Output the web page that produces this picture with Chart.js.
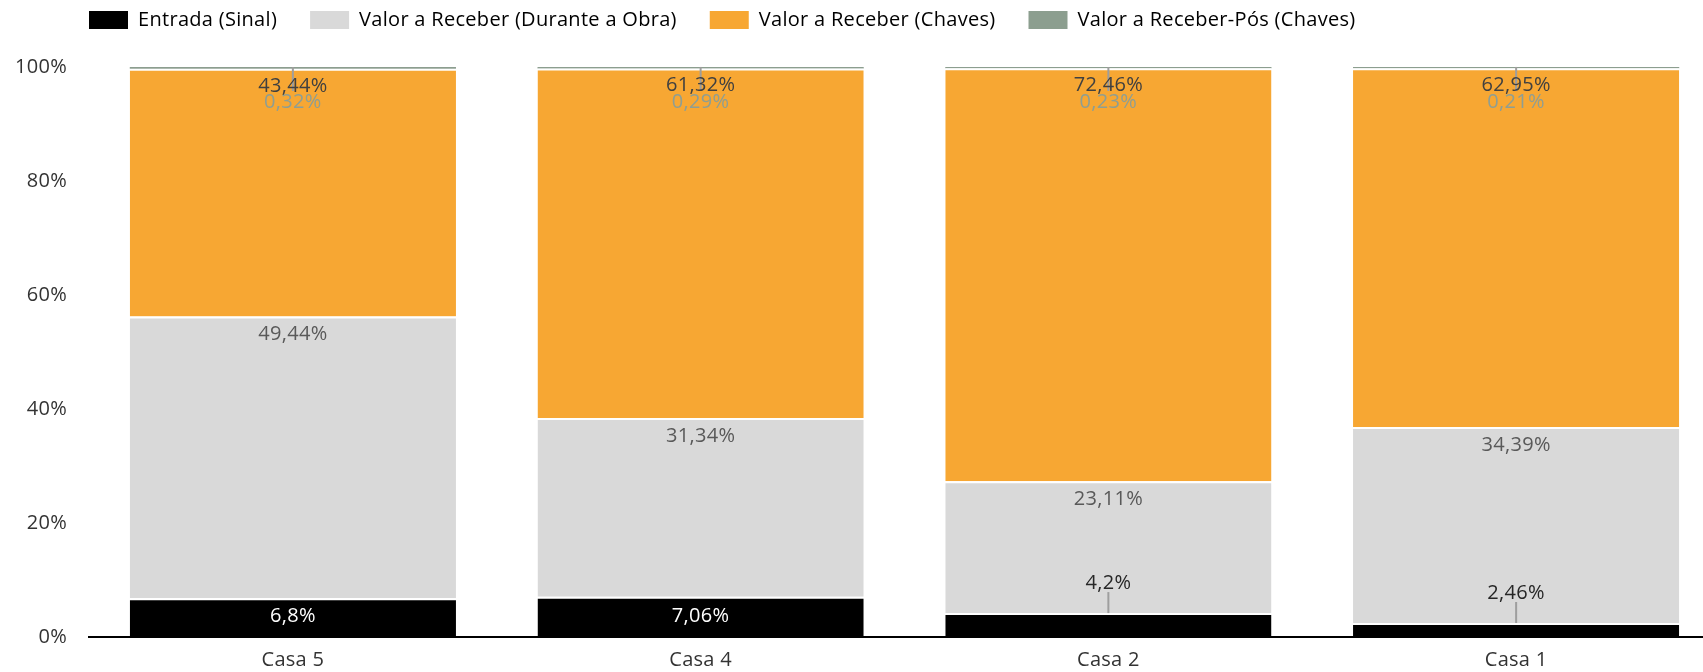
<!DOCTYPE html>
<html>
<head>
<meta charset="utf-8">
<script src="https://cdn.jsdelivr.net/npm/chart.js@4.4.1/dist/chart.umd.min.js"></script>
<style>
  html, body { margin: 0; padding: 0; background: #fff; overflow: hidden; }
  #wrap { width: 1720px; height: 672px; }
</style>
</head>
<body>
<div id="wrap"><canvas id="c" width="1720" height="672"></canvas></div>
<script>
const categories = ['Casa 5', 'Casa 4', 'Casa 2', 'Casa 1'];
const seriesNames = ['Entrada (Sinal)', 'Valor a Receber (Durante a Obra)', 'Valor a Receber (Chaves)', 'Valor a Receber-Pós (Chaves)'];
const entrada = [6.8, 7.06, 4.2, 2.46];
const duranteObra = [49.44, 31.34, 23.11, 34.39];
const chaves = [43.44, 61.32, 72.46, 62.95];
const posChaves = [0.32, 0.29, 0.23, 0.21];
const yTickValues = [0, 20, 40, 60, 80, 100];

const COLORS = ['#000000', '#D9D9D9', '#F7A733', '#8C9E8F'];
const FONT = "'Open Sans', 'Noto Sans', sans-serif";
const FSIZE = 20;
const SPACING = '0.3px';

Chart.defaults.font.family = FONT;
Chart.defaults.font.size = FSIZE;
Chart.defaults.color = '#333333';

function fmt(v) { return String(v).replace('.', ',') + '%'; }

const spacingPlugin = {
  id: 'spacing',
  beforeUpdate(chart) { chart.ctx.letterSpacing = SPACING; },
  beforeLayout(chart) {
    chart.ctx.letterSpacing = SPACING;
    const lg = chart.legend;
    if (lg && !lg.__patched) {
      const f = lg.fit;
      lg.fit = function () { f.call(this); this.height = 67; };
      lg.__patched = true;
    }
  },
  afterLayout(chart) {
    const lg = chart.legend;
    if (lg) {
      lg.left = 89 - 33;
      lg.right = chart.width;
      lg.top = 10 - 33;
      lg.bottom = lg.top + 120;
    }
  },
  beforeDraw(chart) { chart.ctx.letterSpacing = SPACING; }
};

const labelPlugin = {
  id: 'barLabels',
  afterDatasetsDraw(chart) {
    const ctx = chart.ctx;
    ctx.save();
    ctx.letterSpacing = SPACING;
    ctx.font = FSIZE + 'px ' + FONT;
    ctx.textAlign = 'center';
    ctx.textBaseline = 'middle';
    const lines = [];
    const texts = [];
    chart.data.datasets.forEach((ds, di) => {
      const meta = chart.getDatasetMeta(di);
      meta.data.forEach((bar, j) => {
        const v = ds.data[j];
        const top = Math.min(bar.y, bar.base);
        const h = Math.abs(bar.base - bar.y);
        const x = bar.x;
        const t = fmt(v);
        if (di === 0) {
          if (h > 30) {
            texts.push([t, x, top + h / 2 - 1, '#ffffff']);
          } else {
            lines.push([x, top, top - 21]);
            texts.push([t, x, top - 30, '#262626']);
          }
        } else if (di === 1) {
          texts.push([t, x, top + 18, '#595959']);
        } else if (di === 2) {
          texts.push([t, x, top + 17, '#404040']);
        } else {
          lines.push([x, top, top + 24]);
          texts.push([t, x, top + 35, '#8E9E93']);
        }
      });
    });
    ctx.strokeStyle = '#9E9E9E';
    ctx.lineWidth = 2;
    lines.forEach(([x, y1, y2]) => {
      ctx.beginPath(); ctx.moveTo(x, y1); ctx.lineTo(x, y2); ctx.stroke();
    });
    texts.forEach(([t, x, y, c]) => { ctx.fillStyle = c; ctx.fillText(t, x, y); });
    ctx.restore();
  }
};

const seriesData = [entrada, duranteObra, chaves, posChaves];
const datasets = seriesData.map((d, i) => ({
  label: seriesNames[i],
  data: d,
  backgroundColor: COLORS[i],
  borderColor: '#ffffff',
  borderWidth: i === 3 ? 0 : { top: 2, left: 0, right: 0, bottom: 0 },
  borderSkipped: false,
  categoryPercentage: 0.8,
  barPercentage: 1.0
}));

new Chart(document.getElementById('c'), {
  type: 'bar',
  data: { labels: categories, datasets },
  options: {
    responsive: false,
    animation: false,
    layout: { padding: { left: 16, right: 0, top: 0, bottom: 1 } },
    plugins: {
      tooltip: { enabled: false },
      legend: {
        position: 'top',
        align: 'start',
        labels: {
          boxWidth: 39,
          boxHeight: 18,
          padding: 33,
          color: '#333333',
          font: { size: FSIZE, family: FONT },
          generateLabels(chart) {
            return chart.data.datasets.map((ds, i) => ({
              text: ds.label,
              fillStyle: ds.backgroundColor,
              strokeStyle: ds.backgroundColor,
              lineWidth: 0,
              hidden: false,
              datasetIndex: i
            }));
          }
        }
      }
    },
    scales: {
      x: {
        stacked: true,
        grid: { display: false, drawTicks: false },
        border: { display: true, color: '#000000', width: 2 },
        ticks: { padding: 11, color: '#333333', font: { size: FSIZE } },
        afterFit(s) { s.height = 34; }
      },
      y: {
        stacked: true,
        min: 0,
        max: 100,
        afterBuildTicks(scale) { scale.ticks = yTickValues.map(v => ({ value: v })); },
        grid: { display: false, drawTicks: false },
        border: { display: false },
        ticks: { padding: 22, color: '#333333', font: { size: FSIZE }, callback: v => v + '%' },
        afterFit(s) { s.width = 73; }
      }
    }
  },
  plugins: [spacingPlugin, labelPlugin]
});
</script>
</body>
</html>
